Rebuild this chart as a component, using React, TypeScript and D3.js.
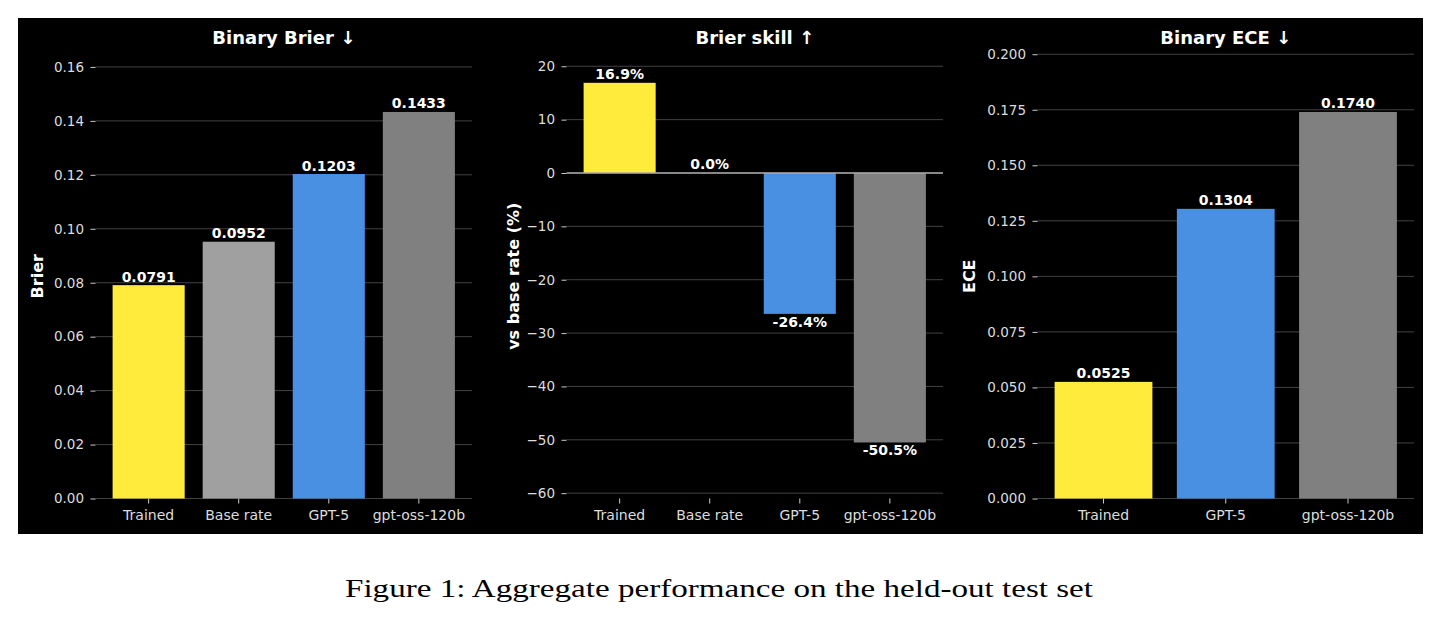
import * as d3 from "d3";
import { useEffect, useRef } from "react";

const brierCategories = ["Trained", "Base rate", "GPT-5", "gpt-oss-120b"];
const brierValues = [0.0791, 0.0952, 0.1203, 0.1433];
const brierColors = ["#ffeb3b", "#a0a0a0", "#4a90e2", "#808080"];
const brierTicks = [0, 0.02, 0.04, 0.06, 0.08, 0.1, 0.12, 0.14, 0.16];

const skillCategories = ["Trained", "Base rate", "GPT-5", "gpt-oss-120b"];
const skillValues = [16.9, 0.0, -26.4, -50.5];
const skillColors = ["#ffeb3b", "#a0a0a0", "#4a90e2", "#808080"];
const skillTicks = [-60, -50, -40, -30, -20, -10, 0, 10, 20];

const eceCategories = ["Trained", "GPT-5", "gpt-oss-120b"];
const eceValues = [0.0525, 0.1304, 0.174];
const eceColors = ["#ffeb3b", "#4a90e2", "#808080"];
const eceTicks = [0, 0.025, 0.05, 0.075, 0.1, 0.125, 0.15, 0.175, 0.2];

const W = 1439;
const H = 622;
const FONT = "'DejaVu Sans', sans-serif";

type Panel = {
  title: string;
  ylabel: string;
  cats: string[];
  vals: number[];
  colors: string[];
  ticks: number[];
  domain: [number, number];
  tickFmt: (d: number) => string;
  valFmt: (d: number) => string;
  left: number;
  labelX: number;
  zeroLine: boolean;
};

const panels: Panel[] = [
  {
    title: "Binary Brier ↓",
    ylabel: "Brier",
    cats: brierCategories,
    vals: brierValues,
    colors: brierColors,
    ticks: brierTicks,
    domain: [0, d3.max(brierValues)! * 1.15],
    tickFmt: d3.format(".2f"),
    valFmt: (d) => d.toFixed(4),
    left: 95.5,
    labelX: 37.5,
    zeroLine: false,
  },
  {
    title: "Brier skill ↑",
    ylabel: "vs base rate (%)",
    cats: skillCategories,
    vals: skillValues,
    colors: skillColors,
    ticks: skillTicks,
    domain: [-61, 22.3],
    tickFmt: d3.format("d"),
    valFmt: (d) => `${d.toFixed(1)}%`,
    left: 566.5,
    labelX: 513,
    zeroLine: true,
  },
  {
    title: "Binary ECE ↓",
    ylabel: "ECE",
    cats: eceCategories,
    vals: eceValues,
    colors: eceColors,
    ticks: eceTicks,
    domain: [0, d3.max(eceValues)! * 1.15],
    tickFmt: d3.format(".3f"),
    valFmt: (d) => d.toFixed(4),
    left: 1037.5,
    labelX: 969.5,
    zeroLine: false,
  },
];

const App = () => {
  const ref = useRef<SVGSVGElement>(null);

  useEffect(() => {
    const svg = d3.select(ref.current);
    svg.selectAll("*").remove();

    svg.append("rect").attr("width", W).attr("height", H).attr("fill", "#fff");
    svg
      .append("rect")
      .attr("x", 18)
      .attr("y", 18)
      .attr("width", 1405)
      .attr("height", 516)
      .attr("fill", "#000");

    const top = 54;
    const bottom = 498.5;
    const pw = 376.5;

    panels.forEach((p) => {
      const n = p.cats.length;
      const x = d3
        .scaleBand()
        .domain(p.cats)
        .range([p.left, p.left + pw])
        .paddingInner(0.2)
        .paddingOuter(0.05 * (n - 0.2));
      const y = d3.scaleLinear().domain(p.domain).range([bottom, top]);

      const g = svg.append("g");

      // grid
      g.selectAll(".grid")
        .data(p.ticks)
        .join("line")
        .attr("x1", p.left)
        .attr("x2", p.left + pw)
        .attr("y1", (d) => y(d))
        .attr("y2", (d) => y(d))
        .attr("stroke", "#4a4a4a")
        .attr("stroke-width", 0.9);

      // y axis
      const ya = g
        .append("g")
        .attr("transform", `translate(${p.left},0)`)
        .call(
          d3
            .axisLeft(y)
            .tickValues(p.ticks)
            .tickFormat((d) => p.tickFmt(d as number))
            .tickSize(5)
            .tickPadding(6.5)
        );
      ya.select(".domain").remove();
      ya.selectAll("line").attr("stroke", "#cccccc");
      ya.selectAll("text")
        .attr("fill", "#dddddd")
        .style("font-family", FONT)
        .style("font-size", "13.5px");

      // x axis
      const xa = g
        .append("g")
        .attr("transform", `translate(0,${bottom})`)
        .call(d3.axisBottom(x).tickSize(5).tickPadding(7));
      xa.select(".domain").remove();
      xa.selectAll("line").attr("stroke", "#cccccc");
      xa.selectAll("text")
        .attr("fill", "#dddddd")
        .style("font-family", FONT)
        .style("font-size", "14px");

      // bars
      g.selectAll(".bar")
        .data(p.vals)
        .join("rect")
        .attr("x", (_, i) => x(p.cats[i])!)
        .attr("width", x.bandwidth())
        .attr("y", (d) => y(Math.max(0, d)))
        .attr("height", (d) => Math.abs(y(d) - y(0)))
        .attr("fill", (_, i) => p.colors[i]);

      if (p.zeroLine) {
        g.append("line")
          .attr("x1", p.left)
          .attr("x2", p.left + pw)
          .attr("y1", y(0))
          .attr("y2", y(0))
          .attr("stroke", "#aaaaaa")
          .attr("stroke-width", 1.6);
      }

      // value labels
      g.selectAll(".val")
        .data(p.vals)
        .join("text")
        .attr("x", (_, i) => x(p.cats[i])! + x.bandwidth() / 2)
        .attr("y", (d) => (d >= 0 ? y(d) - 3.5 : y(d) + 12.8))
        .attr("text-anchor", "middle")
        .attr("fill", "#fff")
        .style("font-family", FONT)
        .style("font-size", "14px")
        .style("font-weight", "bold")
        .text((d) => p.valFmt(d));

      // title
      g.append("text")
        .attr("x", p.left + pw / 2)
        .attr("y", 43.5)
        .attr("text-anchor", "middle")
        .attr("fill", "#fff")
        .style("font-family", FONT)
        .style("font-size", "18px")
        .style("font-weight", "bold")
        .text(p.title);

      // y label
      g.append("text")
        .attr(
          "transform",
          `translate(${p.labelX},${(top + bottom) / 2}) rotate(-90)`
        )
        .attr("text-anchor", "middle")
        .attr("dominant-baseline", "central")
        .attr("fill", "#fff")
        .style("font-family", FONT)
        .style("font-size", "16px")
        .style("font-weight", "bold")
        .text(p.ylabel);
    });

    svg
      .append("text")
      .attr("x", 719)
      .attr("y", 597)
      .attr("text-anchor", "middle")
      .attr("fill", "#000")
      .attr("textLength", 748)
      .attr("lengthAdjust", "spacingAndGlyphs")
      .style("font-family", "'Liberation Serif', serif")
      .style("font-size", "26px")
      .text("Figure 1: Aggregate performance on the held-out test set");
  }, []);

  return (
    <svg
      ref={ref}
      width={W}
      height={H}
      viewBox={`0 0 ${W} ${H}`}
      style={{ position: "absolute", left: 0, top: 0 }}
    ></svg>
  );
};

export default App;
